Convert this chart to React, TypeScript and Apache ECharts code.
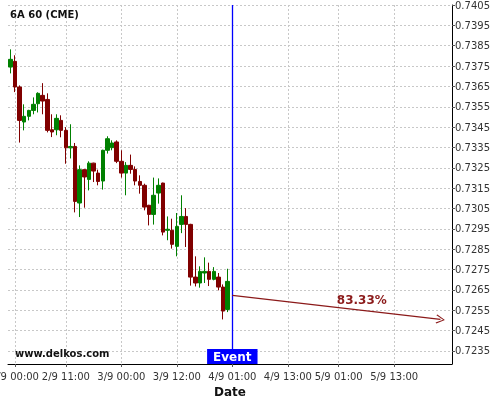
import React, { useEffect, useRef } from 'react';
import * as echarts from 'echarts';

// ---- data ----
const startDay = 1;
const startHour = 23;
const monthLabel = 9;
const closedHour = 17; // exchange break hour with no bar
const categoryCount = 96;

function buildCategories(): string[] {
  const out: string[] = [];
  let day = startDay;
  let hour = startHour;
  while (out.length < categoryCount) {
    if (hour !== closedHour) out.push(`${day}/${monthLabel} ${String(hour).padStart(2, '0')}:00`);
    hour++;
    if (hour === 24) { hour = 0; day++; }
  }
  return out;
}
const categories = buildCategories();

const xTickLabels = ['2/9 00:00', '2/9 11:00', '3/9 00:00', '3/9 12:00', '4/9 01:00', '4/9 13:00', '5/9 01:00', '5/9 13:00'];
const yTickLabels = ['0.7235', '0.7245', '0.7255', '0.7265', '0.7275', '0.7285', '0.7295', '0.7305', '0.7315', '0.7325', '0.7335', '0.7345', '0.7355', '0.7365', '0.7375', '0.7385', '0.7395', '0.7405'];

const opens = [0.73745, 0.73773, 0.73647, 0.73475, 0.73503, 0.73532, 0.73565, 0.73606, 0.73586, 0.73437, 0.73437, 0.73483, 0.73434, 0.73348, 0.73355, 0.73077, 0.73241, 0.73193, 0.73273, 0.73224, 0.73185, 0.73336, 0.73349, 0.73377, 0.73282, 0.73224, 0.73262, 0.73242, 0.73183, 0.73164, 0.73066, 0.73021, 0.73126, 0.73175, 0.72943, 0.72943, 0.72864, 0.72972, 0.73011, 0.72972, 0.72713, 0.72684, 0.72733, 0.72741, 0.72702, 0.72713, 0.72664, 0.72554];
const highs = [0.73832, 0.73803, 0.73655, 0.73562, 0.73535, 0.73596, 0.73621, 0.73666, 0.73616, 0.73513, 0.73513, 0.73508, 0.7345, 0.73464, 0.73372, 0.73262, 0.73243, 0.73282, 0.73275, 0.73241, 0.73339, 0.73405, 0.73385, 0.73385, 0.73336, 0.73278, 0.73315, 0.73257, 0.73213, 0.73172, 0.73068, 0.73202, 0.73198, 0.73177, 0.73011, 0.73, 0.73028, 0.73115, 0.73052, 0.72975, 0.72815, 0.72766, 0.7281, 0.72784, 0.72762, 0.72733, 0.72677, 0.72754];
const lows = [0.73714, 0.73622, 0.73374, 0.73434, 0.73483, 0.73513, 0.73522, 0.73513, 0.73424, 0.73401, 0.7341, 0.734, 0.7327, 0.73296, 0.73031, 0.73008, 0.73054, 0.73139, 0.7318, 0.73164, 0.73143, 0.7332, 0.73336, 0.73273, 0.73202, 0.73115, 0.73221, 0.73164, 0.73123, 0.73041, 0.72967, 0.72971, 0.73074, 0.72918, 0.72894, 0.72853, 0.72815, 0.72929, 0.72861, 0.72671, 0.72667, 0.72661, 0.72684, 0.72669, 0.72697, 0.72648, 0.72505, 0.72541];
const closes = [0.73783, 0.73647, 0.73483, 0.73503, 0.73532, 0.73562, 0.73616, 0.73578, 0.73434, 0.73426, 0.73493, 0.73434, 0.73348, 0.73355, 0.73085, 0.73241, 0.73205, 0.73273, 0.73234, 0.73183, 0.73336, 0.73393, 0.73372, 0.73282, 0.73224, 0.73262, 0.73242, 0.73185, 0.73164, 0.73057, 0.73021, 0.73115, 0.73164, 0.72934, 0.72948, 0.72874, 0.72962, 0.73011, 0.72972, 0.72713, 0.72684, 0.72741, 0.72741, 0.72702, 0.72741, 0.72664, 0.72546, 0.72692];

const eventCategory = '4/9 01:00';
const forecastStart = { category: '4/9 01:00', value: 0.72623 };
const forecastEnd = { category: '6/9 00:00', value: 0.72505 };
const forecastLabel = { category: '5/9 06:00', value: 0.726, text: '83.33%' };

const Y_MIN = 0.72286;
const Y_MAX = 0.7405;

export default function App() {
  const ref = useRef<HTMLDivElement>(null);
  useEffect(() => {
    if (!ref.current) return;
    const chart = echarts.init(ref.current, null, { renderer: 'svg' });

    const yMajor = yTickLabels.map(Number);
    const isLabel = (idx: number) => xTickLabels.includes(categories[idx]);
    const font = 'DejaVu Sans';
    const candleData = opens.map((o, i) => [o, closes[i], lows[i], highs[i]]);
    const darkRed = '#8b1a1a';
    const gridColor = '#c8c8c8';

    chart.setOption({
      animation: false,
      textStyle: { fontFamily: font },
      title: [
        { text: '6A 60 (CME)', left: 10, top: 9, padding: 0, textStyle: { fontSize: 10, fontWeight: 'bold', color: '#111', fontFamily: font } },
        { text: 'www.delkos.com', left: 15, top: 348, padding: 0, textStyle: { fontSize: 10, fontWeight: 'bold', color: '#111', fontFamily: font } },
      ],
      grid: { left: 8, right: 48, top: 5, bottom: 36, containLabel: false, outerBoundsMode: 'none' },
      xAxis: {
        type: 'category',
        data: categories,
        boundaryGap: true,
        name: 'Date',
        nameLocation: 'middle',
        nameGap: 19,
        nameTextStyle: { fontSize: 12, fontWeight: 'bold', color: '#111', fontFamily: font },
        axisLine: { lineStyle: { color: '#000', width: 1 } },
        axisTick: { show: true, alignWithLabel: true, interval: isLabel, length: 3, lineStyle: { color: '#555' } },
        axisLabel: { interval: isLabel, fontSize: 10, color: '#333', margin: 7, fontFamily: font, hideOverlap: false },
        splitLine: { show: true, interval: isLabel, alignWithLabel: true, lineStyle: { color: gridColor, type: [2, 2], width: 1 } },
      },
      yAxis: {
        type: 'value',
        position: 'right',
        min: Y_MIN,
        max: Y_MAX,
        axisLine: { show: true, lineStyle: { color: '#000', width: 1 } },
        axisTick: { show: true, length: 3, customValues: yMajor, lineStyle: { color: '#555' } },
        axisLabel: { customValues: yMajor, formatter: (v: number) => v.toFixed(4), fontSize: 10, color: '#333', margin: 3, fontFamily: font },
        splitLine: { show: true, lineStyle: { color: gridColor, type: [2, 2], width: 1 } },
      },
      series: [
        {
          type: 'candlestick',
          z: 2,
          data: candleData,
          barWidth: 4,
          itemStyle: {
            color: '#008000',
            color0: '#800000',
            borderColor: '#008000',
            borderColor0: '#800000',
            borderWidth: 1,
          },
          markLine: {
            silent: true,
            label: { show: false },
            symbol: 'none',
            data: [
              {
                xAxis: eventCategory,
                symbol: 'none',
                lineStyle: { color: '#0000ff', width: 1.3, type: 'solid' },
              },
              [
                { coord: [forecastStart.category, forecastStart.value], symbol: 'none' },
                {
                  coord: [forecastEnd.category, forecastEnd.value],
                  symbol: 'path://M5,0 L10,9 L9,10 L5,2 L1,10 L0,9 Z',
                  symbolSize: [9, 9],
                },
              ],
            ],
            lineStyle: { color: darkRed, width: 1.3, type: 'solid' },
          },
          markPoint: {
            silent: true,
            data: [
              {
                coord: [forecastLabel.category, forecastLabel.value],
                symbolSize: 0,
                label: { show: true, formatter: forecastLabel.text, position: 'inside', fontSize: 12, fontWeight: 'bold', color: darkRed, fontFamily: font },
              },
              {
                coord: [eventCategory, Y_MIN],
                symbolSize: 0,
                label: {
                  show: true,
                  formatter: 'Event',
                  position: 'top',
                  distance: 0,
                  fontSize: 12,
                  fontWeight: 'bold',
                  color: '#fff',
                  backgroundColor: '#0000ff',
                  padding: [2, 6, 1, 6],
                  fontFamily: font,
                },
              },
            ],
          },
        },
      ],
    });
    return () => chart.dispose();
  }, []);
  return <div ref={ref} style={{ position: 'fixed', left: 0, top: 0, width: 500, height: 400 }} />;
}
